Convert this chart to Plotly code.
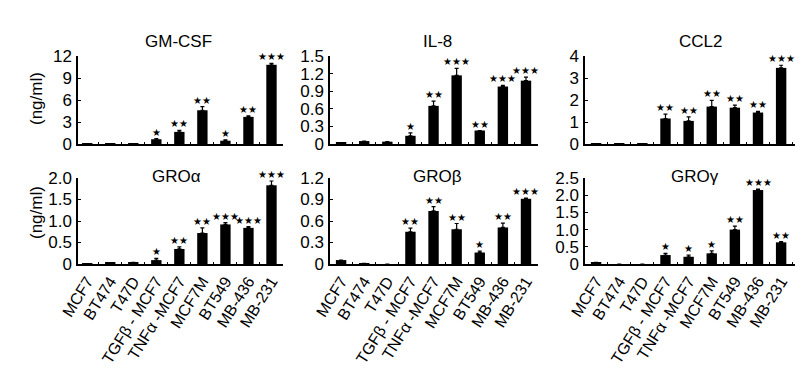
import plotly.graph_objects as go

W, H = 804, 369

categories = ["MCF7", "BT474", "T47D", "TGFβ - MCF7", "TNFα -MCF7", "MCF7M", "BT549", "MB-436", "MB-231"]

gmcsf = [0.05, 0.05, 0.05, 0.65, 1.65, 4.6, 0.45, 3.7, 10.8]
gmcsf_err = [0, 0, 0, 0.1, 0.2, 0.5, 0.1, 0.15, 0.2]
gmcsf_sig = ["", "", "", "*", "**", "**", "*", "**", "***"]

il8 = [0.02, 0.05, 0.04, 0.14, 0.65, 1.17, 0.23, 0.98, 1.08]
il8_err = [0, 0, 0, 0.05, 0.08, 0.12, 0.0, 0.02, 0.06]
il8_sig = ["", "", "", "*", "**", "***", "**", "***", "***"]

ccl2 = [0.01, 0.02, 0.01, 1.16, 1.05, 1.7, 1.65, 1.43, 3.46]
ccl2_err = [0, 0, 0, 0.2, 0.18, 0.28, 0.12, 0.05, 0.12]
ccl2_sig = ["", "", "", "**", "**", "**", "**", "**", "***"]

groa = [0.01, 0.03, 0.04, 0.09, 0.35, 0.72, 0.92, 0.84, 1.83]
groa_err = [0, 0, 0, 0.04, 0.05, 0.12, 0.04, 0.03, 0.1]
groa_sig = ["", "", "", "*", "**", "**", "***", "***", "***"]

grob = [0.055, 0.01, 0.0, 0.45, 0.74, 0.485, 0.16, 0.51, 0.91]
grob_err = [0, 0, 0, 0.05, 0.06, 0.08, 0.02, 0.06, 0.01]
grob_sig = ["", "", "", "**", "**", "**", "*", "**", "***"]

grog = [0.05, 0.0, 0.0, 0.26, 0.21, 0.31, 1.0, 2.15, 0.63]
grog_err = [0, 0, 0, 0.05, 0.05, 0.07, 0.1, 0.03, 0.02]
grog_sig = ["", "", "", "*", "*", "*", "**", "***", "**"]

panels = [
    ("GM-CSF", gmcsf, gmcsf_err, gmcsf_sig, [0, 3, 6, 9, 12], ["0", "3", "6", "9", "12"]),
    ("IL-8", il8, il8_err, il8_sig, [0, 0.3, 0.6, 0.9, 1.2, 1.5], ["0", "0.3", "0.6", "0.9", "1.2", "1.5"]),
    ("CCL2", ccl2, ccl2_err, ccl2_sig, [0, 1, 2, 3, 4], ["0", "1", "2", "3", "4"]),
    ("GROα", groa, groa_err, groa_sig, [0, 0.5, 1.0, 1.5, 2.0], ["0", "0.5", "1.0", "1.5", "2.0"]),
    ("GROβ", grob, grob_err, grob_sig, [0, 0.3, 0.6, 0.9, 1.2], ["0", "0.3", "0.6", "0.9", "1.2"]),
    ("GROγ", grog, grog_err, grog_sig, [0, 0.5, 1.0, 1.5, 2.0, 2.5], ["0", "0.5", "1.0", "1.5", "2.0", "2.5"]),
]

# layout in pixels
col_px = [(70, 275), (322, 530), (577, 787)]
row_px = [(48, 136), (170, 256)]
xranges = [[-0.4, 8.5], [-0.48, 8.52], [-0.48, 8.6]]
title_px = [(170, 33), (430, 33), (692, 33), (168, 169), (430, 169), (687, 168)]

FONT = "Arial, Liberation Sans, sans-serif"
fig = go.Figure()
layout = dict(width=W, height=H, margin=dict(l=0, r=0, t=0, b=0, pad=0, autoexpand=False),
              paper_bgcolor="white", plot_bgcolor="white", showlegend=False,
              font=dict(family=FONT, color="black"), bargap=0.55)
annotations = []

for i, (name, vals, errs, sigs, tv, tt) in enumerate(panels):
    r, c = divmod(i, 3)
    k = "" if i == 0 else str(i + 1)
    xa, ya = "x" + k, "y" + k
    fig.add_trace(go.Bar(
        x=categories, y=vals, xaxis=xa, yaxis=ya, marker=dict(color="black", line=dict(width=0)),
        error_y=dict(type="data", array=errs, arrayminus=[0] * len(errs), symmetric=False,
                     color="black", thickness=1.2, width=2),
        cliponaxis=False))
    x0, x1 = col_px[c]
    y0, y1 = row_px[r]
    layout["xaxis" + k] = dict(
        domain=[x0 / W, x1 / W], anchor=ya, range=xranges[c], type="category",
        showline=True, linecolor="black", linewidth=1.5, ticks="inside", ticklen=2,
        tickson="boundaries", tickcolor="black", showgrid=False, zeroline=False,
        showticklabels=(r == 1), tickangle=-58, ticklabelstandoff=0, automargin=False,
        tickfont=dict(size=16, family=FONT))
    layout["yaxis" + k] = dict(
        domain=[1 - y1 / H, 1 - y0 / H], anchor=xa, range=[0, tv[-1]],
        tickvals=tv, ticktext=tt, showline=True, linecolor="black", linewidth=1.5,
        ticks="inside", ticklen=3, tickcolor="black", showgrid=False, zeroline=False,
        ticklabelstandoff=1, automargin=False, tickfont=dict(size=17, family=FONT))
    tx, ty = title_px[i]
    annotations.append(dict(text=name, x=tx / W, y=1 - ty / H, xref="paper", yref="paper",
                            showarrow=False, font=dict(size=17, family=FONT),
                            xanchor="center", yanchor="middle"))
    for j, s in enumerate(sigs):
        if s:
            annotations.append(dict(text="★" * len(s), x=categories[j], y=vals[j] + errs[j],
                                    xref=xa, yref=ya, showarrow=False, xanchor="center",
                                    yanchor="bottom", yshift=-1,
                                    font=dict(size=10, family="DejaVu Sans")))

for yy in (91, 205):
    annotations.append(dict(text="(ng/ml)", x=28 / W, y=1 - yy / H, xref="paper", yref="paper",
                            showarrow=False, textangle=-90, xanchor="center", yanchor="middle",
                            font=dict(size=17, family=FONT)))

layout["annotations"] = annotations
fig.update_layout(**layout)
fig.write_html("out.html")
